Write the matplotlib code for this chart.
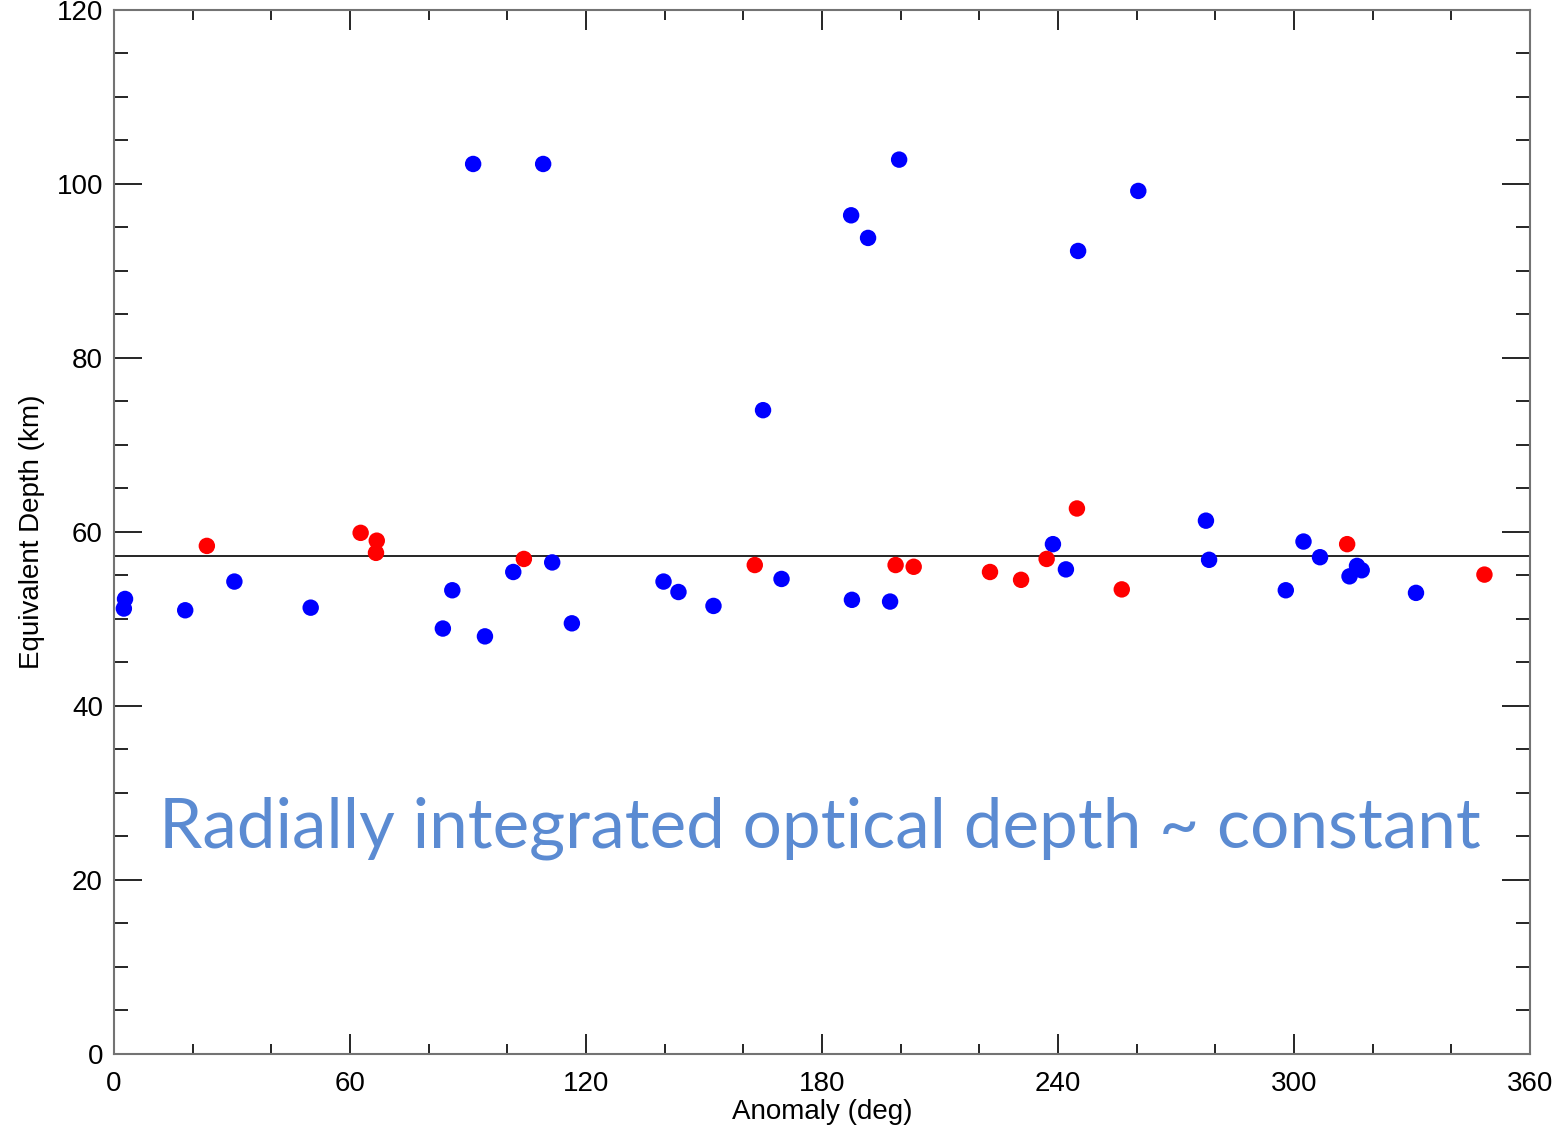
import numpy as np
import matplotlib.pyplot as plt
from matplotlib.ticker import MultipleLocator

plt.rcParams['font.family'] = ['Liberation Sans', 'DejaVu Sans']

# blue points (anomaly deg, depth km)
blue_x = [2.8, 2.5, 18.1, 30.6, 50.0, 83.6, 86.0, 91.3, 94.3, 101.5, 109.1, 111.4, 116.4,
          139.7, 143.5, 152.4, 165.0, 169.7, 187.4, 187.6, 191.7, 197.3, 199.6,
          238.7, 242.0, 245.1, 260.4, 277.6, 278.4, 297.9, 302.4, 306.6,
          314.1, 316.0, 317.2, 331.0]
blue_y = [52.3, 51.2, 51.0, 54.3, 51.3, 48.9, 53.3, 102.3, 48.0, 55.4, 102.3, 56.5, 49.5,
          54.3, 53.1, 51.5, 74.0, 54.6, 96.4, 52.2, 93.8, 52.0, 102.8,
          58.6, 55.7, 92.3, 99.2, 61.3, 56.8, 53.3, 58.9, 57.1,
          54.9, 56.1, 55.6, 53.0]

# red points
red_x = [23.6, 62.7, 66.8, 66.6, 104.2, 162.9, 198.7, 203.3, 222.7, 230.6,
         237.1, 244.8, 256.2, 313.5, 348.4]
red_y = [58.4, 59.9, 59.0, 57.6, 56.9, 56.2, 56.2, 56.0, 55.4, 54.5,
         56.9, 62.7, 53.4, 58.6, 55.1]

mean_depth = 57.2

fig = plt.figure(figsize=(15.64, 11.35), dpi=100)
ax = fig.add_axes([0.0729, 0.0714, 0.9054, 0.9198])

ax.axhline(mean_depth, color='black', lw=1.2, zorder=1)
ax.scatter(blue_x, blue_y, s=140, color='#0000ff', edgecolors='none', zorder=3)
ax.scatter(red_x, red_y, s=140, color='#ff0000', edgecolors='none', zorder=3)

ax.text(179.5, 26.0, 'Radially integrated optical depth ~ constant',
        family=['Lato', 'DejaVu Sans'], fontsize=49.9, color='#5b8bd2',
        ha='center', va='center')

ax.set_xlim(0, 360)
ax.set_ylim(0, 120)
ax.xaxis.set_major_locator(MultipleLocator(60))
ax.xaxis.set_minor_locator(MultipleLocator(20))
ax.yaxis.set_major_locator(MultipleLocator(20))
ax.yaxis.set_minor_locator(MultipleLocator(5))
ax.tick_params(which='both', direction='in', top=True, right=True, labelsize=20, colors='black', width=1.2)
ax.tick_params(axis='x', which='major', length=14.4, pad=12)
ax.tick_params(axis='x', which='minor', length=7.2)
ax.tick_params(axis='y', which='major', length=20, pad=8)
ax.tick_params(axis='y', which='minor', length=10)
for s in ax.spines.values():
    s.set_color('0.45')
    s.set_linewidth(1.5)

ax.set_xlabel('Anomaly (deg)', fontsize=20, labelpad=2)
ax.set_ylabel('Equivalent Depth (km)', fontsize=20, labelpad=8)

fig.savefig('out.png', dpi=100)
